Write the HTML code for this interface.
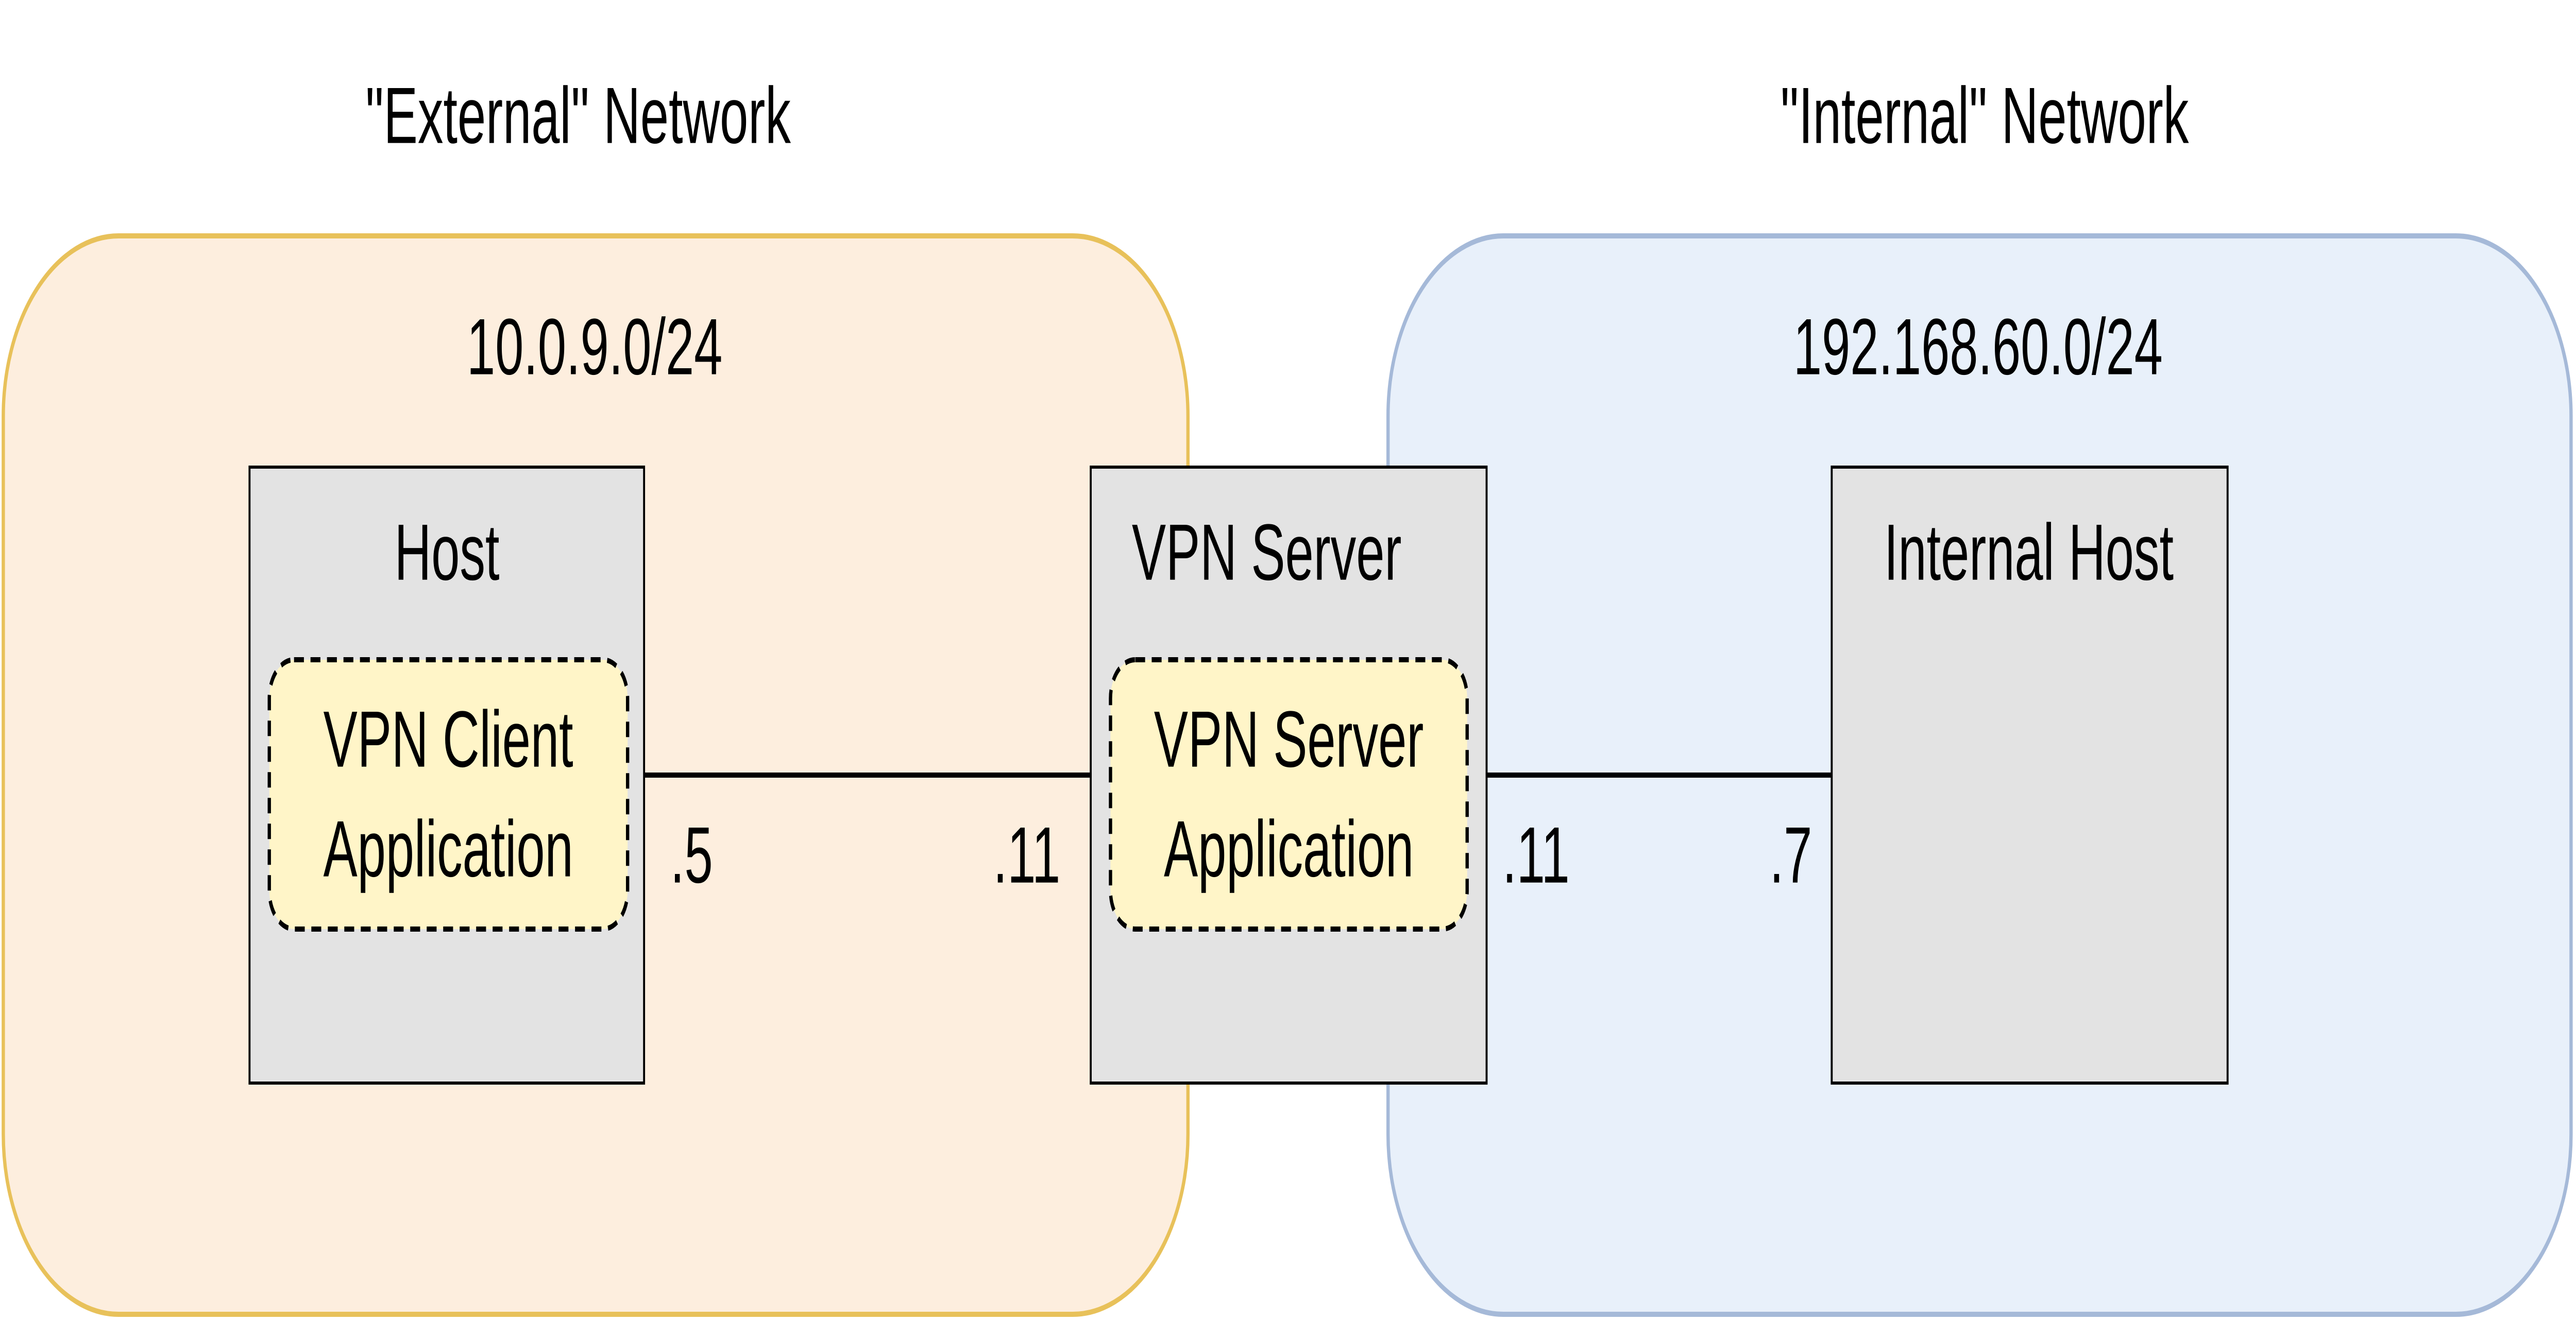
<!DOCTYPE html>
<html><head><meta charset="utf-8"><style>html,body{margin:0;padding:0;background:#fff;overflow:hidden;width:100%;height:100%}svg{display:block;width:100vw;height:100vh}</style></head>
<body>
<svg viewBox="0 0 7815 2565" preserveAspectRatio="none" xmlns="http://www.w3.org/2000/svg" font-family="Liberation Sans, Arial, sans-serif" font-size="155" fill="#000">
<rect x="10" y="458" width="3594" height="2094" rx="350" fill="#fdeede" stroke="#e8c15a" stroke-width="10"/>
<rect x="4211" y="458" width="3589" height="2094" rx="350" fill="#e8f0fa" stroke="#a5b9d8" stroke-width="10"/>
<line x1="1954" y1="1505" x2="3309" y2="1505" stroke="#000" stroke-width="10"/>
<line x1="4510" y1="1505" x2="5557" y2="1505" stroke="#000" stroke-width="10"/>
<rect x="757" y="907" width="1197" height="1196" fill="#e3e3e3" stroke="#000" stroke-width="6"/>
<rect x="3309" y="907" width="1201" height="1196" fill="#e3e3e3" stroke="#000" stroke-width="6"/>
<rect x="5557" y="907" width="1201" height="1196" fill="#e3e3e3" stroke="#000" stroke-width="6"/>
<rect x="817" y="1281" width="1087" height="523" rx="75" fill="#fff5c8" stroke="#000" stroke-width="10" stroke-dasharray="30,20"/>
<rect x="3369" y="1281" width="1082" height="523" rx="75" fill="#fff5c8" stroke="#000" stroke-width="10" stroke-dasharray="30,20"/>
<g text-anchor="middle" dominant-baseline="central">
<text x="1754" y="224">"External" Network</text>
<text x="6021" y="224">"Internal" Network</text>
<text x="1804" y="673">10.0.9.0/24</text>
<text x="6001" y="673">192.168.60.0/24</text>
<text x="1356" y="1072">Host</text>
<text x="3843" y="1072">VPN Server</text>
<text x="6155" y="1072">Internal Host</text>
<text x="1360" y="1435">VPN Client</text>
<text x="1360" y="1648">Application</text>
<text x="3910" y="1435">VPN Server</text>
<text x="3910" y="1648">Application</text>
<text x="2098" y="1660">.5</text>
<text x="3115" y="1660">.11</text>
<text x="4660" y="1660">.11</text>
<text x="5433" y="1660">.7</text>
</g>
</svg>
</body></html>
